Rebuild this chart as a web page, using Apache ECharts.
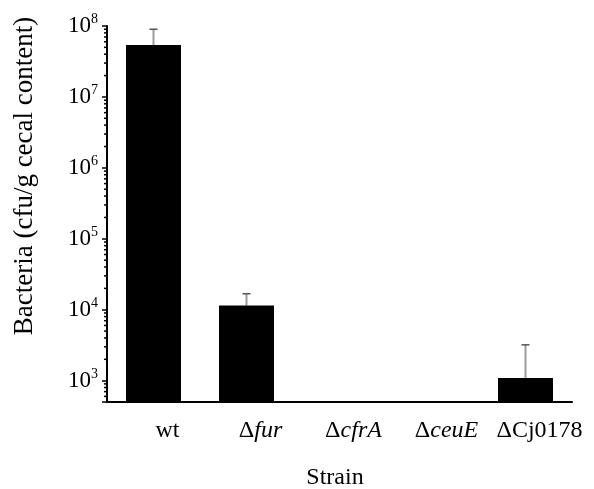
<!DOCTYPE html>
<html>
<head>
<meta charset="utf-8">
<script src="https://cdn.jsdelivr.net/npm/echarts@6/dist/echarts.min.js"></script>
<style>
  html, body { margin: 0; padding: 0; background: #fff; }
  #main { width: 594px; height: 489px; }
</style>
</head>
<body>
<div id="main"></div>
<script>
// data
var strains = ['wt', 'Δfur', 'ΔcfrA', 'ΔceuE', 'ΔCj0178'];
var italicName = [false, true, true, true, false];
var meanCfu = [5.4e7, 1.15e4, null, null, 1.09e3];
var upperCfu = [9.0e7, 1.68e4, null, null, 3.2e3];
var yMin = 500;
var yMax = 1e8;
var decades = [100, 1000, 10000, 100000, 1000000, 10000000];
var minorSteps = [2, 3, 4, 5, 6, 7, 8, 9];

// minor ticks of the log axis
var minorTicks = [];
decades.forEach(function (d) {
    minorSteps.forEach(function (m) {
        var v = d * m;
        if (v > yMin && v < yMax) minorTicks.push([0, v]);
    });
});

var errData = [];
for (var i = 0; i < strains.length; i++) {
    if (meanCfu[i] != null) errData.push([i, meanCfu[i], upperCfu[i]]);
}

var serif = '"Liberation Serif", "DejaVu Serif", serif';
var myChart = echarts.init(document.getElementById('main'));
var option = {
    backgroundColor: '#fff',
    animation: false,
    grid: { left: 107, right: 22, top: 26, bottom: 87 },
    xAxis: {
        type: 'category',
        data: strains,
        axisLine: { lineStyle: { color: '#000', width: 2 } },
        axisTick: { alignWithLabel: true, length: 6, lineStyle: { color: '#000', width: 2 } },
        axisLabel: {
            margin: 17,
            padding: [0, 0, 0, 28],
            formatter: function (v, idx) {
                if (italicName[idx]) return '{n|Δ}{i|' + v.slice(1) + '}';
                return '{n|' + v + '}';
            },
            rich: {
                n: { fontFamily: serif, fontSize: 24, color: '#000' },
                i: { fontFamily: serif, fontSize: 24, fontStyle: 'italic', color: '#000' }
            }
        },
        splitLine: { show: false }
    },
    yAxis: {
        type: 'log',
        logBase: 10,
        min: yMin,
        max: yMax,
        splitNumber: 6,
        axisLine: { show: true, lineStyle: { color: '#000', width: 2 } },
        axisTick: { show: true, length: 5, lineStyle: { color: '#000', width: 1.5 } },
        splitLine: { show: false },
        axisLabel: {
            margin: 9,
            formatter: function (v) {
                var e = Math.round(Math.log10(v));
                if (Math.abs(Math.log10(v) - e) > 1e-6) return '';
                return '{b|10}{s|' + e + '}';
            },
            rich: {
                b: { fontFamily: serif, fontSize: 23, color: '#000' },
                s: { fontFamily: serif, fontSize: 14, color: '#000', padding: [0, 0, 13, 0] }
            }
        }
    },
    graphic: [
        {
            type: 'text',
            x: 25, y: 176, rotation: Math.PI / 2,
            style: {
                text: 'Bacteria (cfu/g cecal content)',
                font: '27px ' + serif, fill: '#000',
                textAlign: 'center', textVerticalAlign: 'middle'
            }
        },
        {
            type: 'text', x: 335, y: 478,
            style: {
                text: 'Strain',
                font: '24px ' + serif, fill: '#000',
                textAlign: 'center', textVerticalAlign: 'middle'
            }
        }
    ],
    series: [
        {
            type: 'bar',
            data: meanCfu,
            barWidth: 55,
            itemStyle: { color: '#000' },
            z: 2
        },
        {
            type: 'custom',
            data: errData,
            z: 1,
            renderItem: function (params, api) {
                var x = api.coord([api.value(0), api.value(1)])[0];
                var yLo = api.coord([api.value(0), api.value(1)])[1];
                var yHi = api.coord([api.value(0), api.value(2)])[1];
                return {
                    type: 'group',
                    children: [
                        { type: 'line', shape: { x1: x, y1: yLo, x2: x, y2: yHi },
                          style: { stroke: '#9c9c9c', lineWidth: 2 } },
                        { type: 'line', shape: { x1: x - 4, y1: yHi, x2: x + 4, y2: yHi },
                          style: { stroke: '#555', lineWidth: 1.5 } }
                    ]
                };
            }
        },
        {
            type: 'custom',
            data: minorTicks,
            z: 3,
            silent: true,
            renderItem: function (params, api) {
                var p = api.coord([0, api.value(1)]);
                var band = api.size([1, 0])[0];
                var x0 = p[0] - band / 2;
                return {
                    type: 'line',
                    shape: { x1: x0 - 3, y1: p[1], x2: x0, y2: p[1] },
                    style: { stroke: '#000', lineWidth: 1.5 }
                };
            }
        }
    ]
};
myChart.setOption(option);
window.onresize = myChart.resize;
</script>
</body>
</html>
